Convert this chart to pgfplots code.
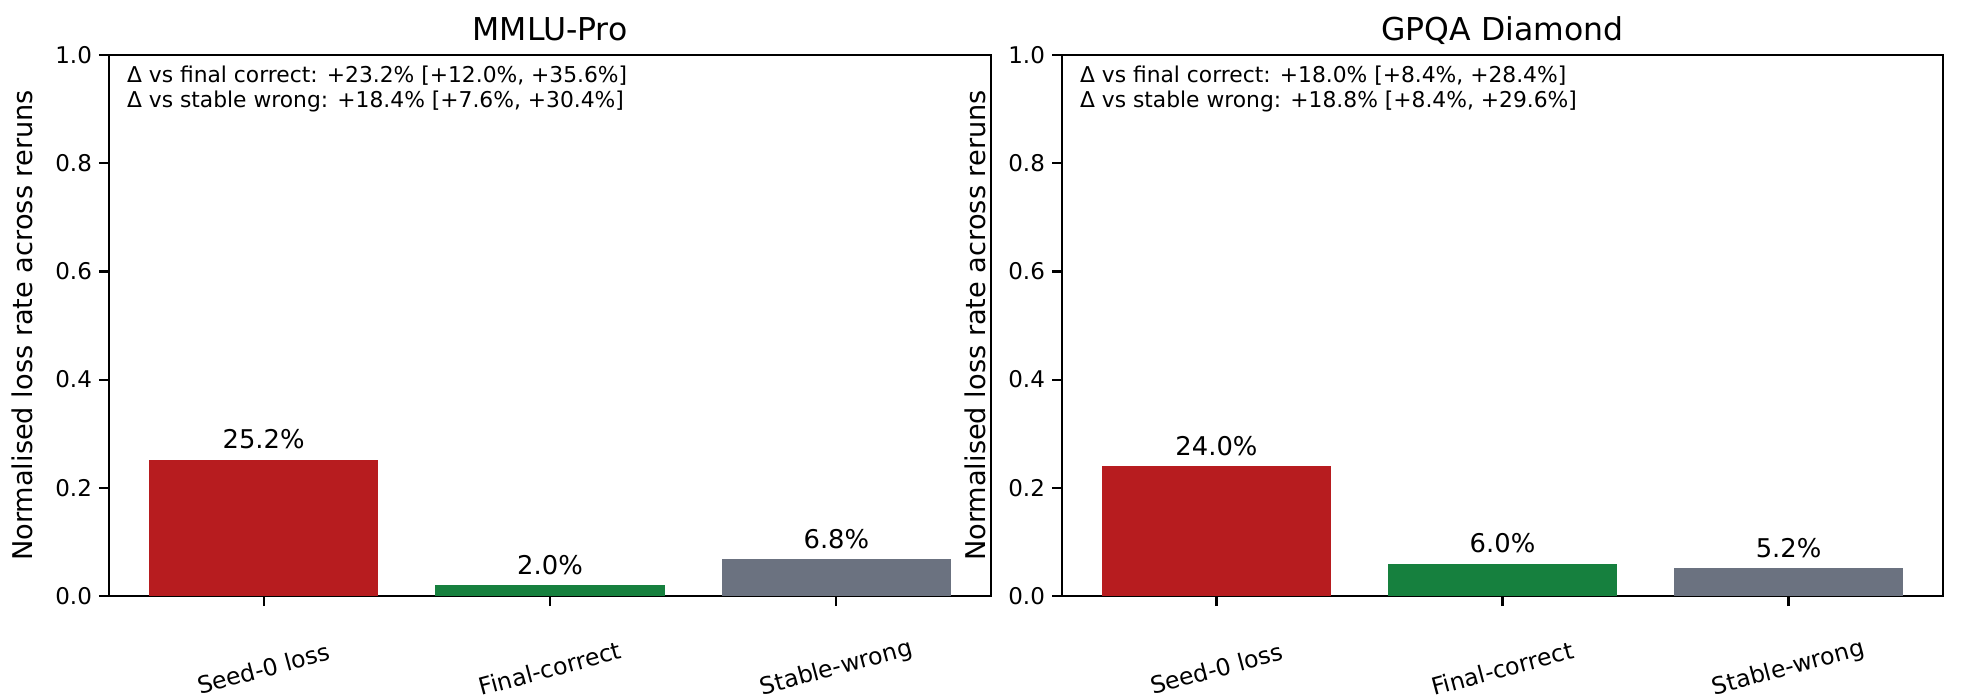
\documentclass[border=0pt]{standalone}
\usepackage{fontspec}
\setmainfont{DejaVu Sans}
\usepackage{pgfplots}
\pgfplotsset{compat=1.18}
\definecolor{cred}{RGB}{183,28,31}
\definecolor{cgreen}{RGB}{22,128,62}
\definecolor{cgray}{RGB}{107,114,128}
\pgfplotsset{
  panel/.style={
    scale only axis, width=441pt, height=270.5pt, anchor=south west,
    xmin=-0.54, xmax=2.54, ymin=0, ymax=1,
    xtick={0,1,2}, xticklabels={Seed-0 loss, Final-correct, Stable-wrong},
    ytick={0,0.2,0.4,0.6,0.8,1.0},
    yticklabel style={/pgf/number format/.cd, fixed, fixed zerofill, precision=1},
    /pgf/number format/assume math mode=true,
    tick align=outside, tick pos=left,
    major tick length=5pt,
    tick style={black, line width=1.1pt},
    axis line style={line width=1.3pt},
    ticklabel style={font=\fontsize{11.5}{13}\selectfont},
    x tick label style={anchor=center, yshift=-31.25pt, rotate=15, font=\fontsize{11.8}{13}\selectfont},
    every axis y label/.style={at={(axis description cs:0,0.5)}, xshift=-43.5pt, rotate=90, anchor=center, font=\fontsize{13.6}{15}\selectfont},
    ylabel={Normalised loss rate across reruns},
    every axis title/.style={at={(axis description cs:0.5,1)}, anchor=base, yshift=7.5pt, font=\fontsize{15.75}{17}\selectfont},
    bars/.style={ybar, bar width=0.8, bar shift=0pt, draw=none, nodes near coords, point meta=explicit symbolic,
      every node near coord/.append style={font=\fontsize{12.9}{14}\selectfont, anchor=south, inner sep=0pt, yshift=5pt, text=black}},
  }
}
\begin{document}
\begin{tikzpicture}
\useasboundingbox (0,0) rectangle (980.5pt,349pt);
\begin{axis}[panel, at={(54.5pt,51pt)}, title={MMLU-Pro}]
\addplot[bars, fill=cred] coordinates {(0,0.252) [25.2\%]};
\addplot[bars, fill=cgreen] coordinates {(1,0.020) [2.0\%]};
\addplot[bars, fill=cgray] coordinates {(2,0.068) [6.8\%]};
\node[anchor=north west, inner sep=0pt, align=left, font=\fontsize{10.9}{12.5}\selectfont] at (rel axis cs:0.02,0.98) {Δ vs final correct: +23.2\% [+12.0\%, +35.6\%]\\Δ vs stable wrong: +18.4\% [+7.6\%, +30.4\%]};
\end{axis}
\begin{axis}[panel, at={(531pt,51pt)}, width=440.5pt, title={GPQA Diamond}]
\addplot[bars, fill=cred] coordinates {(0,0.240) [24.0\%]};
\addplot[bars, fill=cgreen] coordinates {(1,0.060) [6.0\%]};
\addplot[bars, fill=cgray] coordinates {(2,0.052) [5.2\%]};
\node[anchor=north west, inner sep=0pt, align=left, font=\fontsize{10.9}{12.5}\selectfont] at (rel axis cs:0.02,0.98) {Δ vs final correct: +18.0\% [+8.4\%, +28.4\%]\\Δ vs stable wrong: +18.8\% [+8.4\%, +29.6\%]};
\end{axis}
\end{tikzpicture}
\end{document}
